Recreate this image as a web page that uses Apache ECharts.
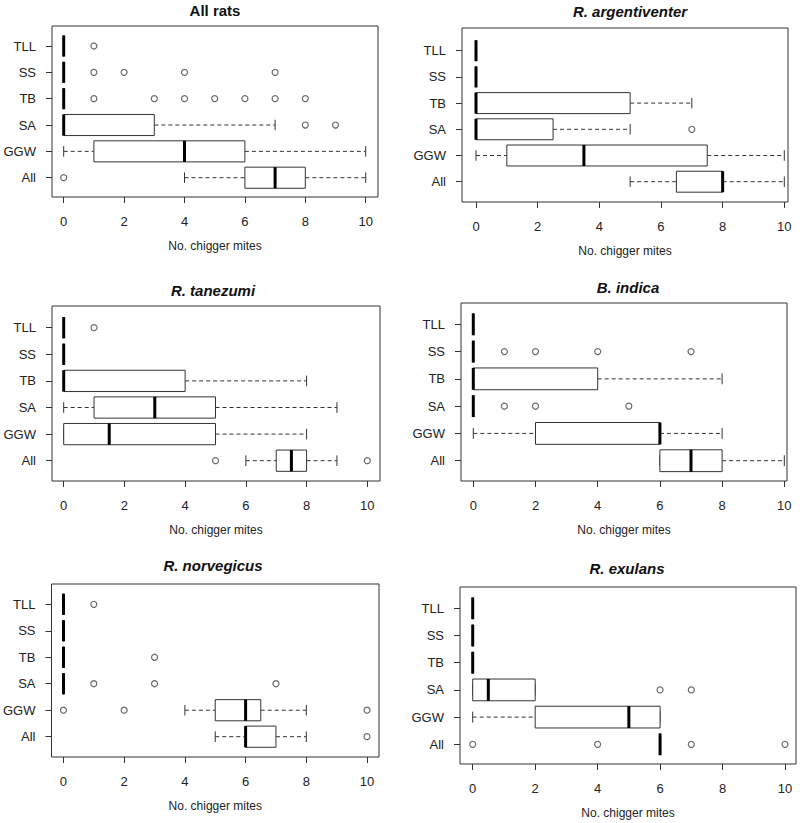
<!DOCTYPE html>
<html>
<head>
<meta charset="utf-8">
<script src="https://cdn.jsdelivr.net/npm/echarts@6/dist/echarts.min.js"></script>
<style>html,body{margin:0;padding:0;background:#fff}#c{width:800px;height:823px}</style>
</head>
<body>
<div id="c"></div>
<script>
// ---- data ----
const categories = ['All', 'GGW', 'SA', 'TB', 'SS', 'TLL']; // bottom -> top
const xTicks = [0, 2, 4, 6, 8, 10];
const xTitle = 'No. chigger mites';
const panelTitles = ['All rats', 'R. argentiventer', 'R. tanezumi', 'B. indica', 'R. norvegicus', 'R. exulans'];

// stats per category: [lowWhisker, Q1, median, Q3, highWhisker] in order of `categories`
const allRatsStats = [[4, 6, 7, 8, 10], [0, 1, 4, 6, 10], [0, 0, 0, 3, 7], [0, 0, 0, 0, 0], [0, 0, 0, 0, 0], [0, 0, 0, 0, 0]];
const allRatsOutliers = [[0], [], [8, 9], [1, 3, 4, 5, 6, 7, 8], [1, 2, 4, 7], [1]];

const argentiventerStats = [[5, 6.5, 8, 8, 10], [0, 1, 3.5, 7.5, 10], [0, 0, 0, 2.5, 5], [0, 0, 0, 5, 7], [0, 0, 0, 0, 0], [0, 0, 0, 0, 0]];
const argentiventerOutliers = [[], [], [7], [], [], []];

const tanezumiStats = [[6, 7, 7.5, 8, 9], [0, 0, 1.5, 5, 8], [0, 1, 3, 5, 9], [0, 0, 0, 4, 8], [0, 0, 0, 0, 0], [0, 0, 0, 0, 0]];
const tanezumiOutliers = [[5, 10], [], [], [], [], [1]];

const indicaStats = [[6, 6, 7, 8, 10], [0, 2, 6, 6, 8], [0, 0, 0, 0, 0], [0, 0, 0, 4, 8], [0, 0, 0, 0, 0], [0, 0, 0, 0, 0]];
const indicaOutliers = [[], [], [1, 2, 5], [], [1, 2, 4, 7], []];

const norvegicusStats = [[5, 6, 6, 7, 8], [4, 5, 6, 6.5, 8], [0, 0, 0, 0, 0], [0, 0, 0, 0, 0], [0, 0, 0, 0, 0], [0, 0, 0, 0, 0]];
const norvegicusOutliers = [[10], [0, 2, 10], [1, 3, 7], [3], [], [1]];

const exulansStats = [[6, 6, 6, 6, 6], [0, 2, 5, 6, 6], [0, 0, 0.5, 2, 2], [0, 0, 0, 0, 0], [0, 0, 0, 0, 0], [0, 0, 0, 0, 0]];
const exulansOutliers = [[0, 4, 7, 10], [], [6, 7], [], [], []];

const panelStats = [allRatsStats, argentiventerStats, tanezumiStats, indicaStats, norvegicusStats, exulansStats];
const panelOutliers = [allRatsOutliers, argentiventerOutliers, tanezumiOutliers, indicaOutliers, norvegicusOutliers, exulansOutliers];

// ---- layout (pixels) ----
// frame [left, top, width, height], x of value 0, x of value 10, y of top category, y of bottom category
const layout = [
  {frame: [52, 26, 326, 171], x0: 63.7, x10: 365.7, yTop: 46, yBot: 177.7, title: [215, 10], italic: false},
  {frame: [462, 28, 326, 174], x0: 476, x10: 784.3, yTop: 50.7, yBot: 181.7, title: [630, 11], italic: true},
  {frame: [52, 306, 328, 175], x0: 63.7, x10: 367.3, yTop: 327.7, yBot: 460.7, title: [213, 290], italic: true},
  {frame: [461, 303, 326, 178], x0: 473.3, x10: 784.3, yTop: 324.3, yBot: 460.7, title: [628, 287], italic: true},
  {frame: [51, 584, 328, 173], x0: 63, x10: 367, yTop: 604.3, yBot: 736.7, title: [213, 565], italic: true},
  {frame: [460, 587, 336, 177], x0: 472.7, x10: 785, yTop: 608.3, yBot: 744.3, title: [627, 568], italic: true}
];

const FONT = "'Liberation Sans', Arial, Helvetica, sans-serif";
const LINE = '#333';

const grids = [], xAxes = [], yAxes = [], series = [], graphics = [];

layout.forEach((L, i) => {
  const [left, top, width, height] = L.frame;
  const ppu = (L.x10 - L.x0) / 10;
  const xmin = -(L.x0 - left) / ppu;
  const xmax = 10 + (left + width - L.x10) / ppu;
  const yppu = (L.yBot - L.yTop) / (categories.length - 1);
  const ymax = categories.length + (L.yTop - top) / yppu;
  const ymin = 1 - (top + height - L.yBot) / yppu;

  grids.push({left, top, width, height, show: true, borderColor: LINE, borderWidth: 1, backgroundColor: 'transparent', containLabel: false});
  xAxes.push({
    type: 'value', gridIndex: i, min: xmin, max: xmax, position: 'bottom',
    splitLine: {show: false}, axisLine: {show: false, onZero: false},
    axisTick: {show: true, length: 6, customValues: xTicks, lineStyle: {color: LINE}},
    axisLabel: {customValues: xTicks, margin: 18, color: '#222', fontSize: 13, fontFamily: FONT},
    name: xTitle, nameLocation: 'middle', nameGap: 43,
    nameTextStyle: {color: '#222', fontSize: 12, fontFamily: FONT}
  });
  const yVals = categories.map((c, k) => k + 1);
  yAxes.push({
    type: 'value', gridIndex: i, min: ymin, max: ymax, position: 'left',
    splitLine: {show: false}, axisLine: {show: false, onZero: false},
    axisTick: {show: true, length: 6, customValues: yVals, lineStyle: {color: LINE}},
    axisLabel: {customValues: yVals, margin: 16, color: '#222', fontSize: 13, fontFamily: FONT,
      formatter: v => categories[Math.round(v) - 1] || ''}
  });

  const stats = panelStats[i];
  const boxData = stats.map((s, k) => [k + 1].concat(s));
  series.push({
    type: 'custom', xAxisIndex: i, yAxisIndex: i, data: boxData, z: 5,
    renderItem: (params, api) => {
      const c = api.value(0);
      const lo = api.value(1), q1 = api.value(2), med = api.value(3), q3 = api.value(4), hi = api.value(5);
      const p = (x, y) => api.coord([x, y]);
      const hb = 0.4, hs = 0.2;
      const dash = {stroke: LINE, lineWidth: 1, lineDash: [4, 3]};
      const solid = {stroke: LINE, lineWidth: 1};
      const seg = (a, b, style) => ({type: 'line', shape: {x1: a[0], y1: a[1], x2: b[0], y2: b[1]}, style});
      const children = [];
      if (q1 > lo) children.push(seg(p(lo, c), p(q1, c), dash));
      if (hi > q3) children.push(seg(p(q3, c), p(hi, c), dash));
      children.push(seg(p(lo, c - hs), p(lo, c + hs), solid));
      children.push(seg(p(hi, c - hs), p(hi, c + hs), solid));
      const a = p(q1, c + hb), b = p(q3, c - hb);
      children.push({type: 'rect', shape: {x: a[0], y: a[1], width: b[0] - a[0], height: b[1] - a[1]},
        style: {fill: '#fff', stroke: LINE, lineWidth: 1}});
      children.push(seg(p(med, c - hb), p(med, c + hb), {stroke: '#000', lineWidth: 3}));
      return {type: 'group', children};
    }
  });

  const outPts = [];
  panelOutliers[i].forEach((vals, k) => vals.forEach(v => outPts.push([v, k + 1])));
  series.push({
    type: 'scatter', xAxisIndex: i, yAxisIndex: i, data: outPts, z: 6,
    symbol: 'circle', symbolSize: 6,
    itemStyle: {color: '#fff', borderColor: '#444', borderWidth: 1.2},
    silent: true
  });

  graphics.push({
    type: 'text', x: L.title[0], y: L.title[1],
    style: {text: panelTitles[i], align: 'center', verticalAlign: 'middle',
      font: (L.italic ? 'italic ' : '') + 'bold 15px ' + FONT, fill: '#111'}
  });
});

const chart = echarts.init(document.getElementById('c'), null, {renderer: 'svg'});
chart.setOption({
  animation: false,
  backgroundColor: '#fff',
  grid: grids, xAxis: xAxes, yAxis: yAxes, series, graphic: graphics
});
</script>
</body>
</html>
